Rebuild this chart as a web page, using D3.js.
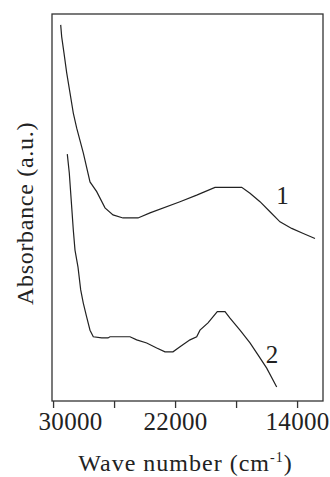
<!DOCTYPE html>
<html>
<head>
<meta charset="utf-8">
<script src="https://cdn.jsdelivr.net/npm/d3@7"></script>
<style>
  body { margin: 0; background: #fff; }
  text { font-family: "Liberation Serif", "Times New Roman", serif; fill: #222; }
</style>
</head>
<body>
<svg id="chart"></svg>
<script>
// wave number (cm-1) and absorbance (a.u.)
const wave1 = [29500, 29434, 29283, 29106, 28890, 28673, 28450, 28018, 27578, 27139, 26595, 26070, 25415, 24431, 23644, 21677, 20582, 19382, 17631, 17087, 16431, 15776, 15120, 14353, 13592, 12825];
const abs1 = [0.972, 0.941, 0.899, 0.848, 0.796, 0.744, 0.705, 0.641, 0.566, 0.541, 0.499, 0.481, 0.473, 0.473, 0.486, 0.515, 0.532, 0.552, 0.552, 0.537, 0.515, 0.489, 0.463, 0.446, 0.433, 0.420];

const wave2 = [29067, 28936, 28778, 28673, 28562, 28365, 28188, 28018, 27795, 27578, 27362, 26811, 26398, 26267, 24956, 24516, 23860, 23205, 22661, 22136, 21677, 21021, 20582, 20366, 19841, 19231, 18726, 18399, 17743, 17087, 16563, 15992, 15336];
const abs2 = [0.638, 0.589, 0.501, 0.442, 0.390, 0.346, 0.287, 0.253, 0.217, 0.183, 0.166, 0.163, 0.163, 0.166, 0.166, 0.158, 0.150, 0.137, 0.127, 0.127, 0.140, 0.158, 0.166, 0.183, 0.202, 0.231, 0.231, 0.214, 0.183, 0.150, 0.119, 0.085, 0.036];

const ticks = [30000, 26000, 22000, 18000, 14000];
const tickLabels = ["30000", "", "22000", "", "14000"];
const seriesNames = ["1", "2"];

const margin = { top: 14, right: 7, bottom: 76, left: 52 };
const width = 330 - margin.left - margin.right;
const height = 477 - margin.top - margin.bottom;

const svg = d3.select("#chart")
  .attr("width", 330)
  .attr("height", 477)
  .append("g")
  .attr("transform", "translate(" + margin.left + "," + margin.top + ")");

const x = d3.scaleLinear()
  .domain([30070, 12300])
  .range([0, width]);

const y = d3.scaleLinear()
  .domain([0, 1])
  .range([height, 0]);

const line = d3.line()
  .x(function(d) { return x(d[0]); })
  .y(function(d) { return y(d[1]); });

const series = [d3.zip(wave1, abs1), d3.zip(wave2, abs2)];

svg.selectAll(".curve")
  .data(series)
  .enter().append("path")
  .attr("class", "curve")
  .attr("fill", "none")
  .attr("stroke", "#222")
  .attr("stroke-width", 1.2)
  .attr("d", line);

// frame
svg.append("rect")
  .attr("width", width)
  .attr("height", height)
  .attr("fill", "none")
  .attr("stroke", "#333")
  .attr("stroke-width", 1.3);

const xAxis = svg.append("g")
  .attr("transform", "translate(0," + height + ")")
  .call(d3.axisBottom(x)
    .tickValues(ticks)
    .tickSize(7)
    .tickFormat(function(d, i) { return tickLabels[i]; }));

xAxis.select(".domain").remove();
xAxis.selectAll("line").attr("stroke", "#333").attr("stroke-width", 1.3);
xAxis.selectAll("text")
  .attr("y", 29)
  .attr("dy", 0)
  .attr("dx", function(d, i) { return i === 0 ? 17 : 0; })
  .style("font-family", "'Liberation Serif', 'Times New Roman', serif")
  .style("font-size", "25px")
  .style("letter-spacing", "0.3px")
  .style("fill", "#222");

// series labels
svg.append("text")
  .attr("x", x(14950))
  .attr("y", y(0.510))
  .attr("text-anchor", "middle")
  .style("font-size", "25px")
  .text(seriesNames[0]);
svg.append("text")
  .attr("x", x(15640))
  .attr("y", y(0.098))
  .attr("text-anchor", "middle")
  .style("font-size", "25px")
  .text(seriesNames[1]);

// axis titles
const xt = svg.append("text")
  .attr("x", width / 2 - 2)
  .attr("y", height + 70)
  .attr("text-anchor", "middle")
  .style("font-size", "24px")
  .style("letter-spacing", "1px");
xt.append("tspan").text("Wave number (cm");
xt.append("tspan").attr("dy", -9).style("font-size", "14px").text("-1");
xt.append("tspan").attr("dy", 9).text(")");

svg.append("text")
  .attr("transform", "translate(-19," + (height / 2 + 6) + ") rotate(-90)")
  .attr("text-anchor", "middle")
  .style("font-size", "24px")
  .style("letter-spacing", "0.7px")
  .text("Absorbance (a.u.)");
</script>
</body>
</html>
